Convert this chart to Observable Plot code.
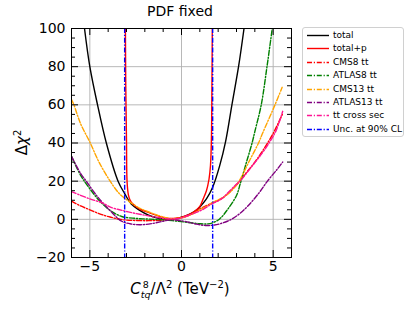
<!DOCTYPE html>
<html>
<head>
<meta charset="utf-8">
<script src="https://cdn.jsdelivr.net/npm/d3@7"></script>
<script src="https://cdn.jsdelivr.net/npm/@observablehq/plot@0.6"></script>
<style>
  html, body { margin: 0; padding: 0; background: #fff; }
  #wrap { position: relative; width: 420px; height: 315px; font-family: "DejaVu Sans", sans-serif; }
  #wrap > svg { position: absolute; left: 0; top: 0; }
  .ov { position: absolute; white-space: nowrap; color: #000; }
  #legend { position: absolute; left: 302px; top: 27px; width: 102px; height: 110px; border: 1px solid #d0d0d0; border-radius: 3px; background: #fff; box-sizing: border-box; }
  .li { position: absolute; left: 2px; width: 98px; height: 12px; font-size: 9px; line-height: 12px; white-space: nowrap; }
  .li svg { position: absolute; left: 0; top: 0; }
  .li span { position: absolute; left: 28px; top: 0; white-space: nowrap; }
</style>
</head>
<body>
<div id="wrap"></div>
<script>
// ---- data ----
const totalX = [-5.29, -5.0, -4.58, -4.1, -3.46, -3.1, -2.74, -2.3, -1.8, -1.3, -0.8, -0.3, 0.2, 0.7, 1.0, 1.36, 1.7, 2.08, 2.41, 2.75, 3.12, 3.41];
const totalY = [100, 80, 60, 40, 20, 13.5, 8, 4.8, 2.2, 0.7, 0.1, 0.4, 1.6, 4, 6.5, 10.7, 16.8, 28, 41, 60, 80.5, 100];

const totalPX = [-3.06, -3.04, -3.0, -2.97, -2.9, -2.8, -2.65, -2.3, -1.74, -1.2, -0.7, -0.3, 0.1, 0.64, 1.0, 1.18, 1.36, 1.5, 1.58, 1.63, 1.66, 1.68];
const totalPY = [100, 70, 41, 20, 13, 10, 8, 5.5, 3.4, 1.6, 0.5, 0.6, 1.4, 3.7, 6.8, 10.7, 15, 21, 28, 41, 70, 100];

const cms8X = [-6, -5.5, -5.0, -4.5, -3.9, -3.2, -2.5, -1.8, -1.2, -0.6, 0, 0.5, 0.91, 1.5, 2.17, 2.9, 3.5, 4.0, 4.5, 5.0, 5.5];
const cms8Y = [9.5, 7, 5, 3, 1.2, -0.2, -0.6, -0.7, -0.5, 0, 0.8, 2.5, 5, 7.8, 10.7, 17, 24, 30, 37, 45, 55];

const atlas8X = [-6, -5.5, -5.0, -4.5, -3.91, -3.26, -2.5, -2.0, -1.5, -1.0, -0.5, 0, 0.5, 1.0, 1.4, 1.7, 2.08, 2.5, 3.0, 3.2, 3.53, 3.86, 4.0, 4.35, 4.67, 4.95];
const atlas8Y = [33, 23, 16, 10, 4.8, 1.5, 0.5, 0.2, 0, -0.3, -0.7, -1.2, -1.8, -2.3, -2.4, -1.8, 0.2, 5.0, 12.5, 18.5, 29.5, 40.4, 46, 60, 80.5, 100];

const cms13X = [-6.0, -5.87, -5.5, -5.0, -4.5, -3.91, -3.37, -2.65, -2.2, -1.74, -1.2, -0.6, 0, 0.6, 1.0, 1.45, 1.69, 2.35, 3.0, 3.71, 4.22, 4.44, 5.1, 5.49];
const cms13Y = [62.7, 60, 50, 40.5, 30, 20.3, 13.3, 8, 5.5, 3.7, 1.8, 0.4, 0.8, 2.8, 5, 7.3, 8.9, 12, 18, 30.8, 40.4, 45.5, 60, 69.2];

const atlas13X = [-6, -5.5, -5.22, -4.55, -3.9, -3.26, -2.7, -2.2, -1.6, -1.0, -0.6, -0.2, 0.3, 0.8, 1.3, 1.8, 2.08, 2.5, 2.81, 3.2, 3.62, 4.2, 4.71, 5.2, 5.52];
const atlas13Y = [33, 24, 20.3, 11.5, 4.6, -1.0, -2.5, -2.8, -2.2, -1.0, -0.3, -0.5, -1.3, -2.5, -3.2, -3.0, -2.4, -1, 0.5, 3.2, 7.0, 13.5, 20.3, 26, 30];

const xsecX = [-6, -5.0, -4.28, -3.91, -3.2, -2.46, -1.8, -1.2, -0.6, 0, 0.5, 1.09, 1.69, 2.17, 2.9, 3.26, 3.8, 4.35, 4.8, 5.16, 5.52];
const xsecY = [14.5, 10.7, 8.5, 6.5, 4.6, 3.0, 1.8, 0.8, 0.2, 0.8, 2.5, 4.8, 8.3, 10.7, 17.5, 20.8, 27.3, 34, 40.4, 46.5, 56.6];

const uncX = [-3.1, 1.7];

const xMajor = [-5, 0, 5];
const xMinor = [-4, -3, -2, -1, 1, 2, 3, 4];
const yMajor = [-20, 0, 20, 40, 60, 80, 100];
const yMinor = [-15, -10, -5, 5, 10, 15, 25, 30, 35, 45, 50, 55, 65, 70, 75, 85, 90, 95];

const names = ["total", "total+p", "CMS8 tt", "ATLAS8 tt", "CMS13 tt", "ATLAS13 tt", "tt cross sec", "Unc. at 90% CL"];
const colors = ["#000000", "#ff0000", "#ff0000", "#008000", "#ffa500", "#800080", "#ff1493", "#0000ff"];
const dashed = [false, false, true, true, true, true, true, true];

// ---- build ----
const DASH = "5,1.8,1.2,1.8";
const zip = (xs, ys) => xs.map((x, i) => ({x, y: ys[i]}));
const series = [
  zip(totalX, totalY), zip(totalPX, totalPY), zip(cms8X, cms8Y), zip(atlas8X, atlas8Y),
  zip(cms13X, cms13Y), zip(atlas13X, atlas13Y), zip(xsecX, xsecY)
];

const W = 420, H = 315, mL = 71, mR = 129, mT = 28, mB = 58;
const pw = W - mL - mR, ph = H - mT - mB;
const fmt = d => d < 0 ? "\u2212" + Math.abs(d) : String(d);

const lineMarks = series.map((s, i) => Plot.line(s, {
  x: "x", y: "y", stroke: colors[i], strokeWidth: 1.4,
  strokeDasharray: dashed[i] ? DASH : null, clip: true, curve: "catmull-rom"
}));

const plot = Plot.plot({
  width: W, height: H,
  marginLeft: mL, marginRight: mR, marginTop: mT, marginBottom: mB,
  style: {fontFamily: "DejaVu Sans, sans-serif", fontSize: "14px", background: "transparent", color: "#000"},
  x: {domain: [-6, 6], label: null},
  y: {domain: [-20, 100], label: null},
  marks: [
    Plot.gridX(xMajor, {stroke: "#b0b0b0", strokeOpacity: 1, strokeWidth: 0.9}),
    Plot.gridY(yMajor, {stroke: "#b0b0b0", strokeOpacity: 1, strokeWidth: 0.9}),
    ...lineMarks,
    Plot.ruleX(uncX, {x: d => d, stroke: colors[7], strokeWidth: 1.4, strokeDasharray: DASH}),
    Plot.tickX(xMajor, {x: d => d, insetTop: ph - 7, stroke: "#000"}),
    Plot.tickX(xMajor, {x: d => d, insetBottom: ph - 7, stroke: "#000"}),
    Plot.tickX(xMinor, {x: d => d, insetTop: ph - 4, stroke: "#000"}),
    Plot.tickX(xMinor, {x: d => d, insetBottom: ph - 4, stroke: "#000"}),
    Plot.tickY(yMajor, {y: d => d, insetRight: pw - 7, stroke: "#000"}),
    Plot.tickY(yMajor, {y: d => d, insetLeft: pw - 7, stroke: "#000"}),
    Plot.tickY(yMinor, {y: d => d, insetRight: pw - 4, stroke: "#000"}),
    Plot.tickY(yMinor, {y: d => d, insetLeft: pw - 4, stroke: "#000"}),
    Plot.axisX(xMajor, {tickSize: 0, tickPadding: 4, tickFormat: fmt, fontSize: 14}),
    Plot.axisY(yMajor, {tickSize: 0, tickPadding: 6, tickFormat: fmt, fontSize: 14}),
    Plot.frame({stroke: "#000", strokeWidth: 1})
  ]
});

const wrap = document.getElementById("wrap");
wrap.appendChild(plot);

function addDiv(html, style, cls) {
  const d = document.createElement("div");
  d.className = cls || "ov";
  d.innerHTML = html;
  Object.assign(d.style, style);
  wrap.appendChild(d);
  return d;
}
// title
addDiv("PDF fixed", {left: "0px", width: "360px", textAlign: "center", top: "3px", fontSize: "14px"});
// x label
addDiv('<i>C</i><span style="display:inline-block;vertical-align:-4px;line-height:10px;font-size:9.5px;"><span style="display:block;">8</span><span style="display:block;"><i>tq</i></span></span>/\u039b<sup style="font-size:10px;">2</sup> (TeV<sup style="font-size:10px;">\u22122</sup>)',
  {left: "0px", width: "360px", textAlign: "center", top: "276px", fontSize: "15px", lineHeight: "18px"});
// y label
addDiv('\u0394<i>\u03c7</i><sup style="font-size:10px;">2</sup>',
  {left: "1px", top: "133px", fontSize: "15px", transform: "rotate(-90deg)", transformOrigin: "center", width: "40px", textAlign: "center"});

// legend
const leg = document.createElement("div");
leg.id = "legend";
wrap.appendChild(leg);
names.forEach((n, i) => {
  const it = document.createElement("div");
  it.className = "li";
  it.style.top = (1 + i * 13.4) + "px";
  it.innerHTML = `<svg width="26" height="12"><line x1="2" x2="24" y1="6.5" y2="6.5" stroke="${colors[i]}" stroke-width="1.4" ${dashed[i] ? `stroke-dasharray="${DASH}"` : ""}/></svg><span>${n}</span>`;
  leg.appendChild(it);
});
</script>
</body>
</html>
